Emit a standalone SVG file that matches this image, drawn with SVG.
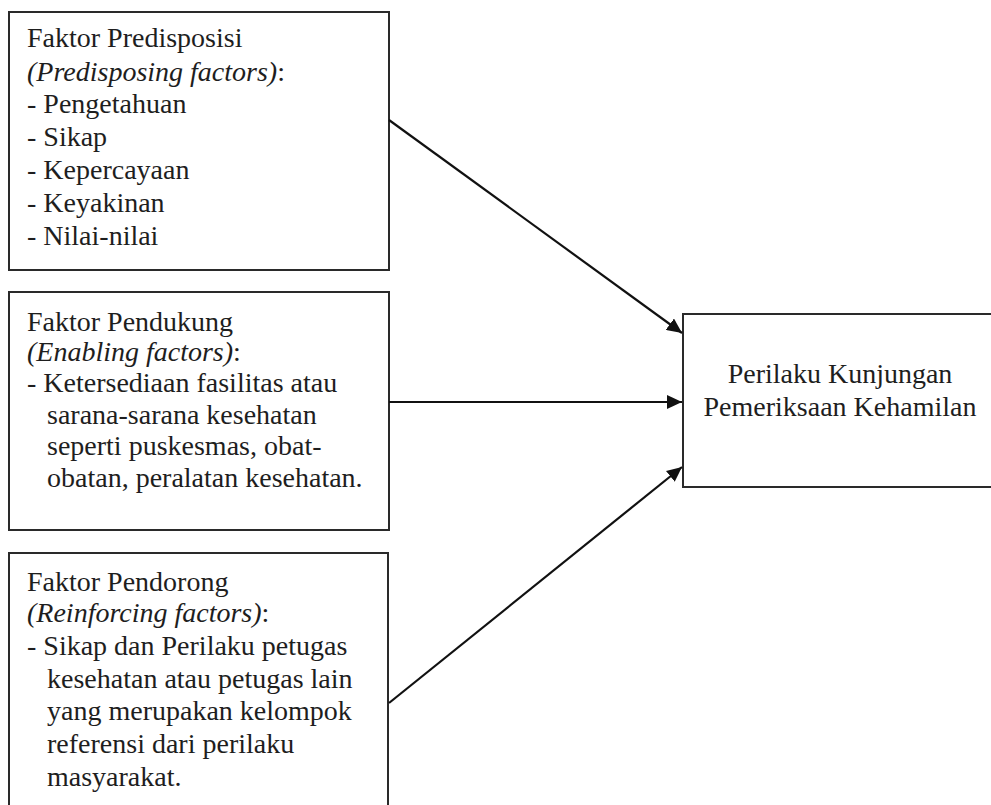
<svg xmlns="http://www.w3.org/2000/svg" width="991" height="805" viewBox="0 0 991 805">
<style>
.box{fill:#fff;stroke:#2a2a2a;stroke-width:2}
.t{font-family:"Liberation Serif","Times New Roman",serif;font-size:28px;fill:#1e1e1e}
.i{font-style:italic}
.conn{stroke:#111;stroke-width:2.2;fill:none;marker-end:url(#ah)}
</style>
<defs>
<marker id="ah" markerUnits="userSpaceOnUse" markerWidth="16" markerHeight="14" refX="15" refY="7" orient="auto">
<path d="M0,0 L15,7 L0,14 Z" fill="#111"/>
</marker>
</defs>
<rect width="991" height="805" fill="#fff"/>
<g id="node-predisposisi">
<rect class="box" x="9" y="12" width="380" height="258"/>
<text class="t" x="27" y="47">Faktor Predisposisi</text>
<text class="t" x="27" y="81"><tspan class="i">(Predisposing factors)</tspan>:</text>
<text class="t" x="27" y="113">- Pengetahuan</text>
<text class="t" x="27" y="146">- Sikap</text>
<text class="t" x="27" y="179">- Kepercayaan</text>
<text class="t" x="27" y="212">- Keyakinan</text>
<text class="t" x="27" y="245">- Nilai-nilai</text>
</g>
<g id="node-pendukung">
<rect class="box" x="9" y="292" width="380" height="238"/>
<text class="t" x="27" y="331">Faktor Pendukung</text>
<text class="t" x="27" y="361"><tspan class="i">(Enabling factors)</tspan>:</text>
<text class="t" x="27" y="392">- Ketersediaan fasilitas atau</text>
<text class="t" x="47" y="424">sarana-sarana kesehatan</text>
<text class="t" x="47" y="455">seperti puskesmas, obat-</text>
<text class="t" x="47" y="487">obatan, peralatan kesehatan.</text>
</g>
<g id="node-pendorong">
<rect class="box" x="9" y="553" width="379" height="270"/>
<text class="t" x="27" y="591">Faktor Pendorong</text>
<text class="t" x="27" y="622"><tspan class="i">(Reinforcing factors)</tspan>:</text>
<text class="t" x="27" y="655">- Sikap dan Perilaku petugas</text>
<text class="t" x="47" y="688">kesehatan atau petugas lain</text>
<text class="t" x="47" y="720">yang merupakan kelompok</text>
<text class="t" x="47" y="753">referensi dari perilaku</text>
<text class="t" x="47" y="786">masyarakat.</text>
</g>
<g id="node-perilaku">
<rect class="box" x="683" y="314" width="330" height="173"/>
<text class="t" x="840" y="383" text-anchor="middle">Perilaku Kunjungan</text>
<text class="t" x="840" y="416" text-anchor="middle">Pemeriksaan Kehamilan</text>
</g>
<g id="connectors">
<line class="conn" x1="389" y1="120" x2="682" y2="333"/>
<line class="conn" x1="389" y1="402" x2="682" y2="402"/>
<line class="conn" x1="389" y1="703" x2="682" y2="467"/>
</g>
</svg>
